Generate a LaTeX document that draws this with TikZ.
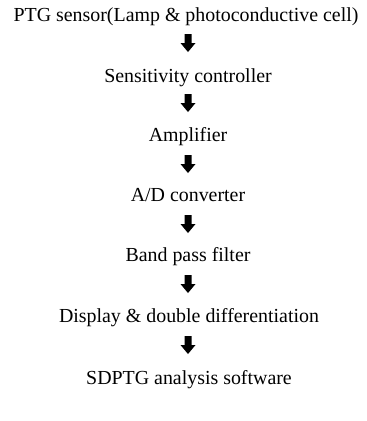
\documentclass[tikz,border=0pt]{standalone}
\usepackage{fontspec}
\setmainfont{Liberation Serif}
\usetikzlibrary{calc}
\tikzset{
  lbl/.style={inner sep=0pt, font=\fontsize{19.9}{22}\selectfont, anchor=base},
  blockarrow/.style={fill=black, draw=none},
}
\newcommand{\downblock}[1]{%
  \fill[blockarrow] ($(#1)+(-3.5pt,9pt)$) -- ($(#1)+(3.5pt,9pt)$) -- ($(#1)+(3.5pt,0pt)$) -- ($(#1)+(7.5pt,0pt)$) -- ($(#1)+(0pt,-9pt)$) -- ($(#1)+(-7.5pt,0pt)$) -- ($(#1)+(-3.5pt,0pt)$) -- cycle;}
\begin{document}
\begin{tikzpicture}[x=1pt,y=1pt]
\useasboundingbox (0,0) rectangle (367,-421);
\node[lbl] (t1) at (186,-21) {PTG sensor(Lamp \& photoconductive cell)};
\node[lbl] (t2) at (188,-82) {Sensitivity controller};
\node[lbl] (t3) at (188,-141) {Amplifier};
\node[lbl] (t4) at (188,-201) {A/D converter};
\node[lbl] (t5) at (188,-261) {Band pass filter};
\node[lbl] (t6) at (189,-322) {Display \& double differentiation};
\node[lbl] (t7) at (189,-384) {SDPTG analysis software};
\coordinate (a1) at (188,-43);
\coordinate (a2) at (188,-103);
\coordinate (a3) at (188,-164);
\coordinate (a4) at (188,-224);
\coordinate (a5) at (188,-284);
\coordinate (a6) at (188,-345);
\downblock{a1}\downblock{a2}\downblock{a3}\downblock{a4}\downblock{a5}\downblock{a6}
\end{tikzpicture}
\end{document}
